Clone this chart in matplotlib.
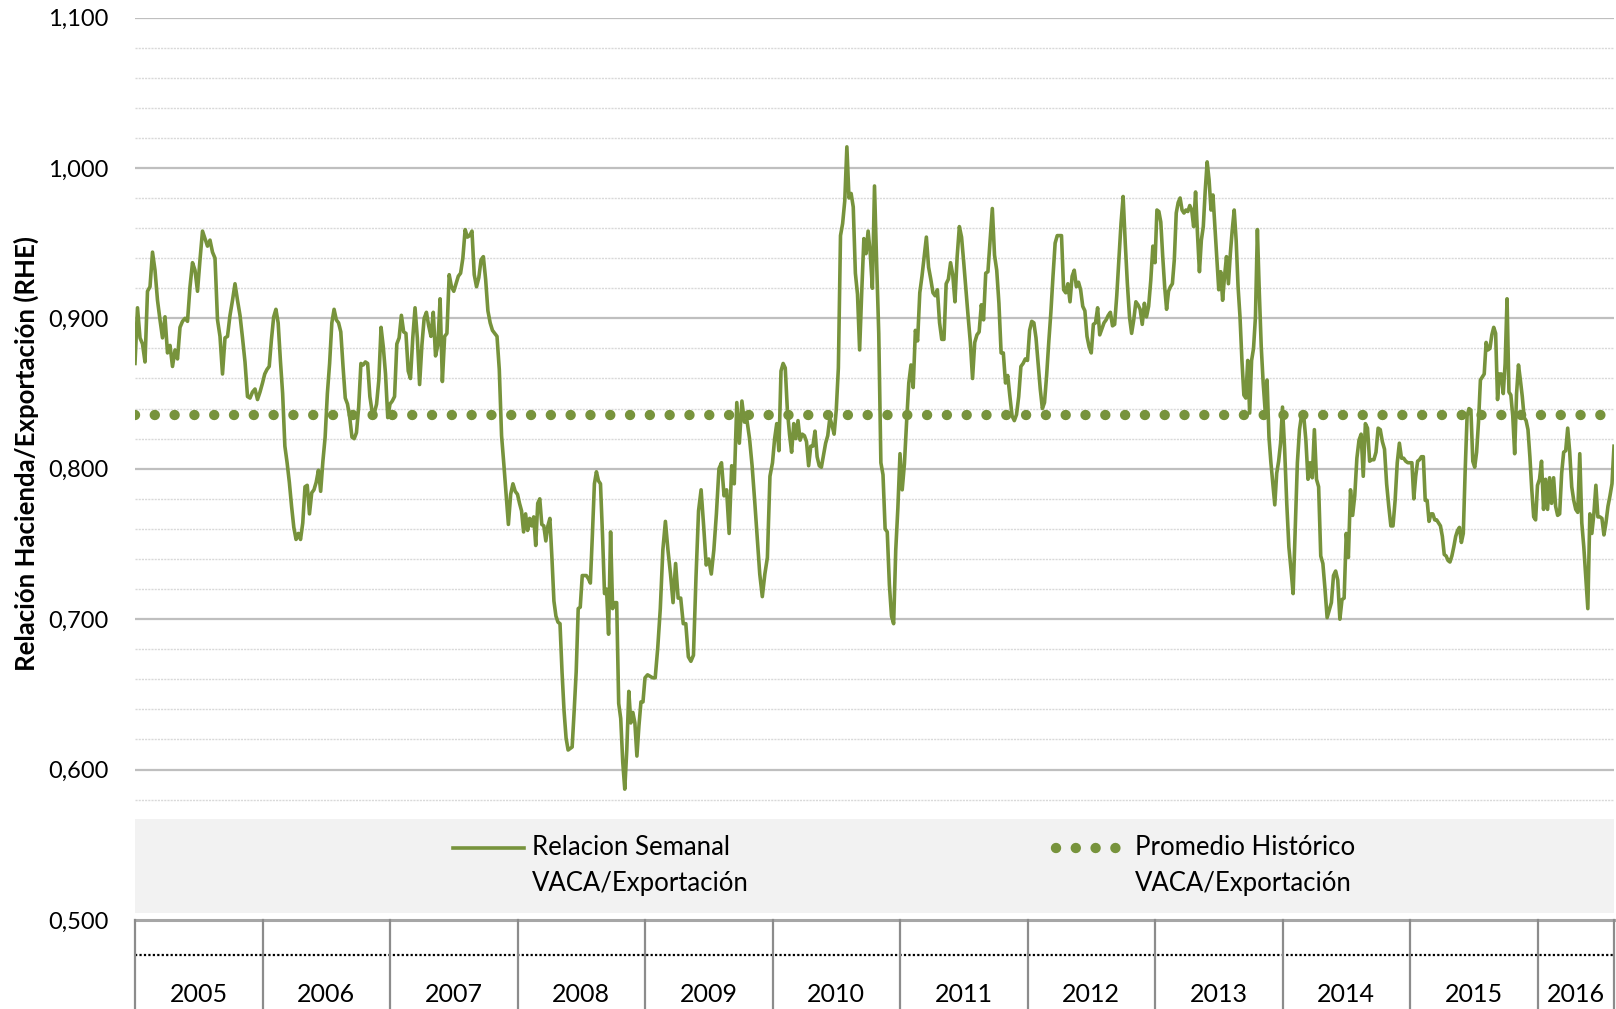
import numpy as np
import matplotlib
matplotlib.use("Agg")
import matplotlib.pyplot as plt
from matplotlib.patches import Rectangle
from matplotlib.lines import Line2D

plt.rcParams['font.family'] = ['Lato', 'DejaVu Sans']

GREEN = "#77933C"

years = [2005, 2006, 2007, 2008, 2009, 2010, 2011, 2012, 2013, 2014, 2015, 2016]
span_2016 = 0.6  # share of 2016 covered by the data

v2005 = [0.870, 0.907, 0.887, 0.883, 0.871, 0.918, 0.921, 0.944, 0.932, 0.912, 0.899, 0.887, 0.901,
         0.877, 0.882, 0.868, 0.879, 0.873, 0.894, 0.898, 0.900, 0.898, 0.921, 0.937, 0.932, 0.918,
         0.939, 0.958, 0.953, 0.948, 0.952, 0.944, 0.940, 0.899, 0.888, 0.863, 0.887, 0.888, 0.902,
         0.912, 0.923, 0.912, 0.902, 0.887, 0.871, 0.848, 0.847, 0.851, 0.853, 0.846, 0.851]
v2006 = [0.857, 0.863, 0.866, 0.868, 0.886, 0.901, 0.906, 0.897, 0.872, 0.850, 0.815, 0.804, 0.791,
         0.775, 0.761, 0.753, 0.757, 0.753, 0.764, 0.788, 0.789, 0.770, 0.784, 0.786, 0.791, 0.799,
         0.785, 0.805, 0.821, 0.850, 0.870, 0.897, 0.906, 0.899, 0.897, 0.891, 0.868, 0.847, 0.843,
         0.834, 0.821, 0.820, 0.824, 0.841, 0.870, 0.869, 0.871, 0.870, 0.848, 0.838, 0.837, 0.843,
         0.859, 0.894, 0.881, 0.863, 0.834]
v2007 = [0.843, 0.845, 0.848, 0.883, 0.887, 0.902, 0.891, 0.890, 0.865, 0.860, 0.887, 0.907, 0.887,
         0.856, 0.882, 0.900, 0.904, 0.895, 0.888, 0.904, 0.875, 0.882, 0.913, 0.858, 0.888, 0.890,
         0.929, 0.921, 0.918, 0.923, 0.928, 0.930, 0.940, 0.959, 0.954, 0.955, 0.958, 0.929, 0.921,
         0.927, 0.939, 0.941, 0.926, 0.905, 0.897, 0.892, 0.890, 0.888, 0.866, 0.822, 0.803, 0.783,
         0.763, 0.783, 0.790, 0.785]
v2008 = [0.783, 0.777, 0.772, 0.758, 0.770, 0.759, 0.767, 0.762, 0.768, 0.749, 0.777, 0.780, 0.763,
         0.762, 0.752, 0.762, 0.767, 0.741, 0.712, 0.702, 0.698, 0.697, 0.665, 0.639, 0.621, 0.613,
         0.614, 0.615, 0.639, 0.665, 0.707, 0.708, 0.729, 0.729, 0.729, 0.727, 0.724, 0.756, 0.790,
         0.798, 0.792, 0.790, 0.756, 0.717, 0.720, 0.690, 0.758, 0.707, 0.711, 0.711, 0.644, 0.634,
         0.605, 0.587, 0.613, 0.652, 0.631, 0.638, 0.631, 0.609, 0.629, 0.645, 0.645]
v2009 = [0.661, 0.663, 0.662, 0.661, 0.661, 0.681, 0.707, 0.746, 0.765, 0.746, 0.730, 0.711, 0.737,
         0.714, 0.714, 0.697, 0.697, 0.675, 0.672, 0.676, 0.728, 0.772, 0.786, 0.762, 0.736, 0.740,
         0.730, 0.746, 0.770, 0.800, 0.804, 0.782, 0.786, 0.757, 0.802, 0.790, 0.844, 0.817, 0.845,
         0.831, 0.832, 0.820, 0.802, 0.779, 0.754, 0.730, 0.715, 0.730, 0.741, 0.795]
v2010 = [0.804, 0.820, 0.830, 0.812, 0.865, 0.870, 0.867, 0.839, 0.823, 0.811, 0.830, 0.820, 0.832,
         0.819, 0.823, 0.822, 0.818, 0.802, 0.815, 0.815, 0.825, 0.808, 0.802, 0.801, 0.809, 0.817,
         0.822, 0.834, 0.829, 0.823, 0.839, 0.867, 0.955, 0.963, 0.978, 1.014, 0.980, 0.983, 0.974,
         0.930, 0.916, 0.879, 0.918, 0.953, 0.943, 0.958, 0.943, 0.920, 0.988, 0.937, 0.890, 0.804,
         0.796, 0.760, 0.758, 0.723, 0.702, 0.697, 0.746, 0.774]
v2011 = [0.810, 0.786, 0.803, 0.831, 0.857, 0.869, 0.854, 0.892, 0.885, 0.917, 0.928, 0.941, 0.954,
         0.934, 0.926, 0.917, 0.915, 0.919, 0.897, 0.886, 0.886, 0.923, 0.926, 0.937, 0.929, 0.911,
         0.941, 0.961, 0.954, 0.937, 0.919, 0.901, 0.884, 0.860, 0.884, 0.889, 0.891, 0.909, 0.899,
         0.930, 0.931, 0.952, 0.973, 0.942, 0.932, 0.910, 0.877, 0.877, 0.857, 0.862, 0.848, 0.835,
         0.832, 0.836, 0.848, 0.868, 0.870, 0.873]
v2012 = [0.872, 0.892, 0.898, 0.897, 0.887, 0.870, 0.853, 0.840, 0.844, 0.862, 0.884, 0.904, 0.928,
         0.950, 0.955, 0.955, 0.955, 0.919, 0.917, 0.923, 0.911, 0.928, 0.932, 0.921, 0.924, 0.919,
         0.908, 0.905, 0.888, 0.881, 0.877, 0.896, 0.897, 0.907, 0.889, 0.893, 0.897, 0.899, 0.902,
         0.904, 0.895, 0.896, 0.915, 0.939, 0.963, 0.981, 0.950, 0.923, 0.901, 0.890, 0.899, 0.911,
         0.909, 0.906, 0.896, 0.910, 0.901, 0.908, 0.925, 0.948]
v2013 = [0.937, 0.972, 0.971, 0.964, 0.941, 0.921, 0.906, 0.918, 0.921, 0.923, 0.939, 0.970, 0.977,
         0.980, 0.972, 0.970, 0.972, 0.971, 0.975, 0.972, 0.961, 0.984, 0.956, 0.931, 0.952, 0.961,
         0.985, 1.004, 0.992, 0.972, 0.982, 0.961, 0.939, 0.919, 0.931, 0.912, 0.928, 0.941, 0.923,
         0.943, 0.959, 0.972, 0.952, 0.921, 0.901, 0.872, 0.849, 0.847, 0.872, 0.837, 0.872, 0.880,
         0.901, 0.959, 0.917, 0.881, 0.857, 0.839, 0.859, 0.821, 0.804, 0.790, 0.776, 0.797, 0.805,
         0.817]
v2014 = [0.841, 0.813, 0.777, 0.748, 0.733, 0.717, 0.760, 0.804, 0.826, 0.836, 0.835, 0.819, 0.793,
         0.804, 0.794, 0.826, 0.793, 0.788, 0.742, 0.737, 0.720, 0.701, 0.706, 0.711, 0.729, 0.732,
         0.726, 0.700, 0.713, 0.714, 0.757, 0.741, 0.786, 0.769, 0.782, 0.807, 0.819, 0.823, 0.795,
         0.830, 0.827, 0.805, 0.806, 0.806, 0.811, 0.827, 0.826, 0.818, 0.813, 0.790, 0.775, 0.762,
         0.762, 0.779, 0.804, 0.817, 0.807, 0.807, 0.805, 0.804]
v2015 = [0.804, 0.804, 0.780, 0.795, 0.805, 0.806, 0.808, 0.808, 0.779, 0.779, 0.765, 0.770, 0.770,
         0.766, 0.766, 0.764, 0.762, 0.755, 0.743, 0.742, 0.739, 0.738, 0.742, 0.748, 0.755, 0.759,
         0.761, 0.751, 0.757, 0.799, 0.835, 0.840, 0.839, 0.805, 0.801, 0.811, 0.831, 0.859, 0.861,
         0.863, 0.884, 0.879, 0.880, 0.889, 0.894, 0.890, 0.846, 0.863, 0.863, 0.850, 0.870, 0.913,
         0.851, 0.849, 0.835, 0.810, 0.850, 0.869, 0.859, 0.848, 0.834, 0.832, 0.826, 0.808, 0.786,
         0.768, 0.766]
v2016 = [0.789, 0.793, 0.805, 0.773, 0.793, 0.773, 0.794, 0.777, 0.794, 0.775, 0.769, 0.770, 0.797,
         0.811, 0.812, 0.827, 0.811, 0.788, 0.779, 0.773, 0.771, 0.810, 0.764, 0.748, 0.728, 0.707,
         0.770, 0.757, 0.770, 0.789, 0.768, 0.768, 0.767, 0.756, 0.764, 0.775, 0.782, 0.790, 0.815]

promedio = 0.836

series = [v2005, v2006, v2007, v2008, v2009, v2010, v2011, v2012, v2013, v2014, v2015, v2016]

# x position: year + fraction of the year
xs = []
ys = []
for yr, vals in zip(years, series):
    n = len(vals)
    if yr == years[-1]:
        xs.append(yr + np.linspace(0, span_2016, n))
    else:
        xs.append(yr + np.arange(n) / n)
    ys.append(np.array(vals))
x = np.concatenate(xs)
y = np.concatenate(ys)
x_end = x[-1]

W, H = 1616, 1009
fig = plt.figure(figsize=(W / 100, H / 100), dpi=100)

left = 135 / W
width = (1614 - 135) / W
bottom = (H - 920) / H
ax = fig.add_axes([left, bottom, width, (920 - 17.5) / H])

ax.set_xlim(years[0], x_end)
ax.set_ylim(0.5, 1.1)

# gridlines
for v in np.arange(0.52, 1.1, 0.02):
    if abs(v * 10 - round(v * 10)) < 1e-6:
        continue
    ax.axhline(v, color="#D9D9D9", lw=1.0, ls=(0, (1.5, 0.8)), zorder=1)
for v in np.arange(0.6, 1.11, 0.1):
    ax.axhline(v, color="#BFBFBF", lw=1.6, zorder=1)

DOTS = dict(lw=7.5, ls=(0, (0.001, 1.9)), dash_capstyle="round")
ax.plot(x, np.full_like(x, promedio), color=GREEN, zorder=3, **DOTS)
ax.plot(x, y, color=GREEN, lw=2.6, zorder=4, solid_joinstyle="round")

yt = np.round(np.arange(0.5, 1.11, 0.1), 1)
ax.set_yticks(yt)
ax.set_yticklabels([f"{v:.3f}".replace(".", ",") for v in yt], fontsize=17)
ax.tick_params(axis="y", length=0, pad=19)
ax.set_xticks([])
for s in ax.spines.values():
    s.set_visible(False)

# legend band
band_lo = (0.5047 - 0.5) / 0.6
band_hi = (0.567 - 0.5) / 0.6
ax.add_patch(Rectangle((0, band_lo), 1, band_hi - band_lo, transform=ax.transAxes,
                       facecolor="#F2F2F2", edgecolor="none", zorder=5))
ly1 = 0.0798
ly2 = 0.0405
FS_LEG = 18.5
ax.add_line(Line2D([0.215, 0.263], [ly1, ly1], transform=ax.transAxes, color=GREEN, lw=2.6, zorder=6))
ax.text(0.2684, ly1, "Relacion Semanal", transform=ax.transAxes, fontsize=FS_LEG, va="center", zorder=6)
ax.text(0.2684, ly2, "VACA/Exportación", transform=ax.transAxes, fontsize=FS_LEG, va="center", zorder=6)
ax.add_line(Line2D([0.6227, 0.668], [ly1, ly1], transform=ax.transAxes, color=GREEN,
                   zorder=6, **DOTS))
ax.text(0.676, ly1, "Promedio Histórico", transform=ax.transAxes, fontsize=FS_LEG, va="center", zorder=6)
ax.text(0.676, ly2, "VACA/Exportación", transform=ax.transAxes, fontsize=FS_LEG, va="center", zorder=6)

fig.text(0.016, 1 - 453.5 / H, "Relación Hacienda/Exportación (RHE)", rotation=90,
         fontsize=18.5, fontweight="bold", ha="center", va="center")

# year table under the axis
tab = fig.add_axes([left, 0, width, bottom])
tab.set_xlim(years[0], x_end)
tab.set_ylim(0, 1)
tab.axis("off")
tab.axhline(1, color="#A6A6A6", lw=2.2, clip_on=False)
tab.axhline(0.607, color="black", lw=1.6, ls=(0, (1, 1)))
for b in years + [x_end]:
    tab.axvline(b, color="#8C8C8C", lw=1.6, clip_on=False)
for i, yr in enumerate(years):
    right = years[i + 1] if i + 1 < len(years) else x_end
    tab.text((yr + right) / 2, 0.163, str(yr), ha="center", va="center", fontsize=18)

fig.savefig("out.png", dpi=100)
